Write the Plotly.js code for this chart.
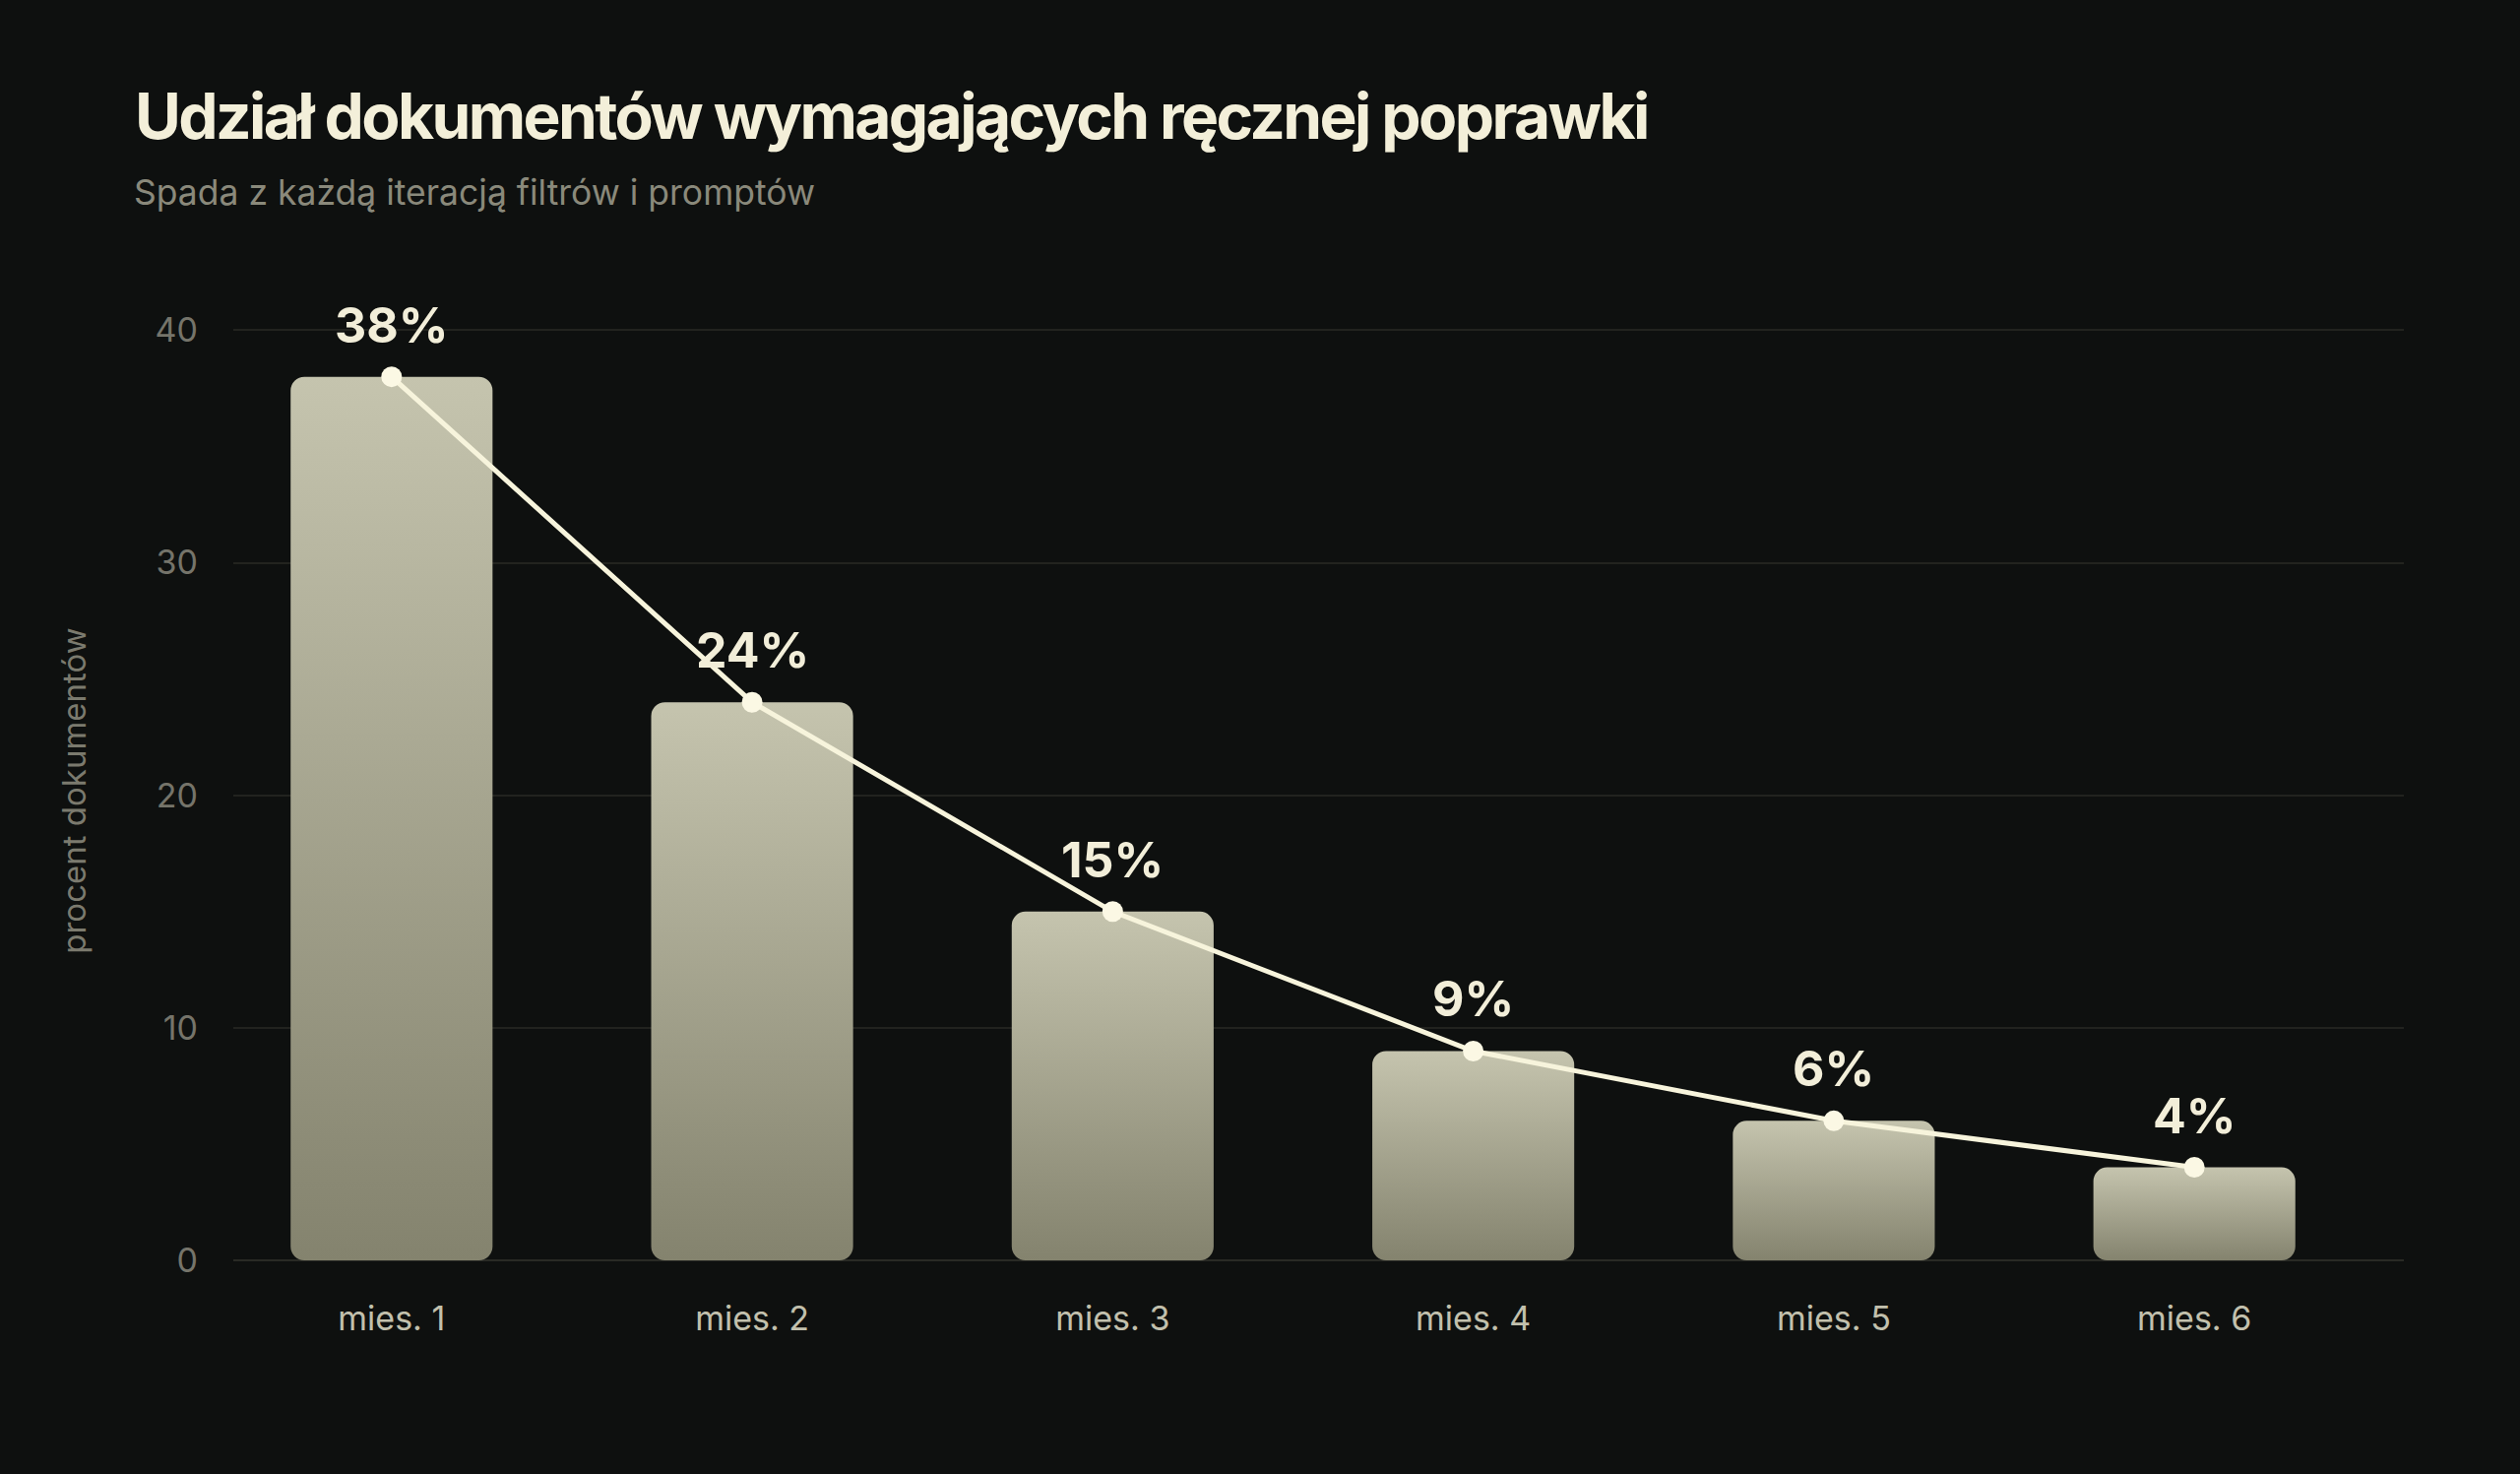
<!DOCTYPE html>
<html>
<head>
<meta charset="utf-8">
<script src="https://cdn.plot.ly/plotly-3.0.1.min.js"></script>
<style>
  html, body { margin: 0; padding: 0; background: #0e100f; }
  #chart { width: 2560px; height: 1497px; }
  .gtitle { letter-spacing: -2.6px; }
</style>
</head>
<body>
<div id="chart"></div>
<script>
const categories = ['mies. 1', 'mies. 2', 'mies. 3', 'mies. 4', 'mies. 5', 'mies. 6'];
const values = [38, 24, 15, 9, 6, 4];
const yTickVals = [0, 10, 20, 30, 40];
const labels = values.map(v => v + '%');

const titleText = 'Udział dokumentów wymagających ręcznej poprawki';
const subtitleText = 'Spada z każdą iteracją filtrów i promptów';
const yTitleText = 'procent dokumentów';

const FONT = 'Inter, "Noto Sans", sans-serif';

const barTrace = {
  type: 'bar',
  x: categories,
  y: values,
  width: 0.56,
  marker: { color: '#a5a48f', line: { width: 0 } },
  hoverinfo: 'skip'
};

const lineTrace = {
  type: 'scatter',
  mode: 'lines+markers',
  x: categories,
  y: values,
  line: { color: '#f7f4dc', width: 5 },
  marker: { color: '#fbf8e4', size: 21 },
  cliponaxis: false,
  hoverinfo: 'skip'
};

const annotations = categories.map((c, i) => ({
  x: c, y: values[i], xref: 'x', yref: 'y',
  text: labels[i],
  showarrow: false,
  yanchor: 'middle',
  yshift: 53,
  font: { family: FONT, size: 50, color: '#f2eed9', weight: 700 }
}));

annotations.push({
  text: subtitleText,
  xref: 'paper', yref: 'paper',
  x: -0.0467, y: 1.1364,
  xanchor: 'left', yanchor: 'middle',
  showarrow: false,
  font: { family: FONT, size: 35.5, color: '#8a897b' }
});

const layout = {
  width: 2560,
  height: 1497,
  paper_bgcolor: '#0e100f',
  plot_bgcolor: '#0e100f',
  margin: { l: 237, r: 118, t: 325.5, b: 217 },
  showlegend: false,
  title: {
    text: titleText,
    font: { family: FONT, size: 64, color: '#f3efd9', weight: 700 },
    x: 0.0535, xref: 'container', xanchor: 'left',
    y: 1 - 119 / 1497, yref: 'container', yanchor: 'middle'
  },
  xaxis: {
    type: 'category',
    range: [-0.439, 5.581],
    showgrid: false,
    zeroline: false,
    showline: false,
    ticks: '',
    ticklabelstandoff: 36,
    tickfont: { family: FONT, size: 34, color: '#c2c0ad' }
  },
  yaxis: {
    range: [0, 40.4],
    tickvals: yTickVals,
    ticktext: yTickVals.map(String),
    showgrid: true,
    gridcolor: '#22231f',
    gridwidth: 2,
    zeroline: true,
    zerolinecolor: '#292a25',
    zerolinewidth: 2,
    showline: false,
    ticks: '',
    ticklabelstandoff: 35,
    tickfont: { family: FONT, size: 34, color: '#75746a' },
    title: {
      text: yTitleText,
      standoff: 60,
      font: { family: FONT, size: 33, color: '#7b7a6e' }
    }
  },
  annotations: annotations
};

function roundedRectPath(x, y, w, h, r) {
  r = Math.min(r, w / 2, h / 2);
  return 'M' + (x + r) + ',' + y +
    'H' + (x + w - r) +
    'A' + r + ',' + r + ' 0 0 1 ' + (x + w) + ',' + (y + r) +
    'V' + (y + h - r) +
    'A' + r + ',' + r + ' 0 0 1 ' + (x + w - r) + ',' + (y + h) +
    'H' + (x + r) +
    'A' + r + ',' + r + ' 0 0 1 ' + x + ',' + (y + h - r) +
    'V' + (y + r) +
    'A' + r + ',' + r + ' 0 0 1 ' + (x + r) + ',' + y + 'Z';
}

Plotly.newPlot('chart', [barTrace, lineTrace], layout, { staticPlot: true, displayModeBar: false })
.then(gd => {
  const ns = 'http://www.w3.org/2000/svg';
  const svg = gd.querySelector('.main-svg');
  let defs = svg.querySelector('defs');
  if (!defs) { defs = document.createElementNS(ns, 'defs'); svg.insertBefore(defs, svg.firstChild); }
  const lg = document.createElementNS(ns, 'linearGradient');
  lg.setAttribute('id', 'barGrad');
  lg.setAttribute('x1', '0'); lg.setAttribute('y1', '0');
  lg.setAttribute('x2', '0'); lg.setAttribute('y2', '1');
  [['0', '#c5c4ae'], ['1', '#84836e']].forEach(([o, c]) => {
    const s = document.createElementNS(ns, 'stop');
    s.setAttribute('offset', o);
    s.setAttribute('stop-color', c);
    lg.appendChild(s);
  });
  defs.appendChild(lg);
  gd.querySelectorAll('.barlayer .point path').forEach(p => {
    const b = p.getBBox();
    p.setAttribute('d', roundedRectPath(b.x, b.y, b.width, b.height, 14));
    p.style.fill = 'url(#barGrad)';
  });
});
</script>
</body>
</html>
